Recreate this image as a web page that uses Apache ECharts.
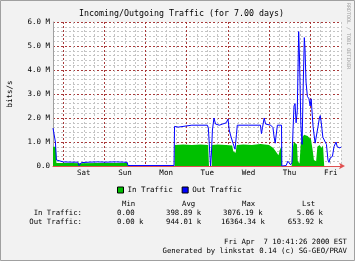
<!DOCTYPE html>
<html><head><meta charset="utf-8">
<script src="https://cdn.jsdelivr.net/npm/echarts@6/dist/echarts.min.js"></script>
<style>html,body{margin:0;padding:0;background:#f2f2f2}#c{width:355px;height:261px}</style>
</head><body><div id="c"></div>
<script>
// hours since Sat 00:00
const dayLabels = ['Sat', 'Sun', 'Mon', 'Tue', 'Wed', 'Thu', 'Fri'];
const yTickLabels = ['0.0', '1.0 M', '2.0 M', '3.0 M', '4.0 M', '5.0 M', '6.0 M'];

// In Traffic (Mbit/s)
const inTimes  = [-6, -4.3, -4.0, -3, 5, 10, 20, 30, 37.5, 37.7, 50, 64.9, 65.0, 70, 75, 80, 84.5, 85.0, 86.6, 86.8, 90, 95, 98.5, 99.2, 100.5, 101.2, 105, 110, 115, 120, 122.5, 124, 125.5, 126.5, 127.4, 127.6, 133.2, 133.6, 134.5, 135.5, 136.3, 136.8, 137.8, 138.5, 139.5, 140.5, 141.5, 142.5, 143.5, 144.5, 145.5, 146.2, 147.5, 148.2, 149.5, 150.5, 151.5, 152.0, 152.2, 162];
const inValues = [0.8, 0.8, 0.12, 0.12, 0.12, 0.11, 0.12, 0.12, 0.12, 0, 0, 0, 0.88, 0.9, 0.87, 0.9, 0.88, 0, 0, 0.88, 0.9, 0.87, 0.85, 0.6, 0.55, 0.88, 0.9, 0.88, 0.92, 0.88, 0.75, 0.6, 0.45, 0.7, 0.85, 0, 0, 0.6, 1.0, 0.95, 0.9, 0.2, 0.1, 0.9, 1.2, 1.3, 1.37, 1.25, 1.3, 1.1, 0.65, 0.25, 0.2, 0.8, 0.87, 0.75, 0.85, 0.85, 0, 0];

// Out Traffic (Mbit/s)
const outTimes  = [-6, -5.0, -4.6, -4.0, -3.0, 0, 5, 8.5, 9.2, 9.8, 10.5, 15, 20, 25, 29.5, 30.2, 31, 35, 37.3, 37.7, 50, 64.6, 64.9, 66, 67, 68, 75, 84, 84.6, 85.1, 85.9, 86.4, 87, 87.9, 88.8, 91, 93, 95, 96.1, 96.8, 97.7, 99, 100.2, 101, 101.5, 108, 115, 115.6, 116.2, 117.2, 118, 121, 122.3, 122.9, 123.6, 124.3, 124.9, 127.3, 127.5, 128, 130, 131, 131.8, 132.6, 133.4, 134.0, 134.6, 135.2, 135.8, 136.5, 137.3, 137.8, 138.6, 139.3, 140, 140.6, 141.0, 141.6, 142.4, 143.3, 144, 144.6, 145.7, 146.9, 147.5, 148.5, 149.4, 149.9, 150.5, 151.4, 152, 152.8, 153.5, 154.4, 155, 155.6, 156.3, 157, 157.9, 159.1, 159.8, 160.5, 161.4, 162];
const outValues = [1.58, 1.58, 1.0, 0.25, 0.18, 0.17, 0.16, 0.16, 0.02, 0.02, 0.14, 0.16, 0.17, 0.16, 0.17, 0.22, 0.17, 0.16, 0.15, 0.02, 0.02, 0.02, 1.65, 1.7, 1.62, 1.7, 1.7, 1.7, 1.6, 1.0, 0.0, 0.5, 1.5, 2.0, 1.75, 1.7, 1.75, 1.8, 1.95, 1.5, 1.25, 0.95, 0.7, 1.3, 1.7, 1.7, 1.7, 1.35, 1.6, 2.0, 1.75, 1.7, 1.6, 1.25, 0.95, 0.9, 1.7, 1.7, 0.0, 0.02, 0.02, 0.2, 0.25, 0.05, 0.15, 1.5, 2.5, 2.6, 1.8, 2.3, 5.6, 4.5, 1.7, 0.9, 3.5, 5.35, 4.9, 3.5, 2.9, 2.8, 2.5, 2.8, 1.65, 0.95, 1.0, 1.6, 2.0, 2.1, 1.8, 1.2, 1.25, 1.0, 0.9, 0.25, 0.15, 0.33, 0.25, 0.4, 0.8, 1.0, 0.8, 0.78, 0.75, 0.8];

const statHeaders = ['Min', 'Avg', 'Max', 'Lst'];
const inStats  = ['0.00', '398.89 k', '3076.19 k', '5.06 k'];
const outStats = ['0.00 k', '944.01 k', '16364.34 k', '653.92 k'];

const MONO = 'DejaVu Sans Mono';
const RED = '#a83a3a', GRAY = '#c4c4c4';
const zip = (a, b) => a.map((t, i) => [t, b[i]]);

const chart = echarts.init(document.getElementById('c'), null, {renderer: 'canvas'});

const statX = [122, 182, 242, 302];
const inX = [117, 166, 223, 323];
const outX = [117, 166, 221, 323];
const align = ['left', 'left', 'left', 'right'];
const graphics = [
  {type: 'rect', shape: {x: 0.5, y: 0.5, width: 354, height: 260}, style: {fill: 'none', stroke: '#a0a0a0', lineWidth: 1}, z: -1},
  {type: 'text', x: 348, y: 3, rotation: -Math.PI / 2, style: {text: 'RRDTOOL / TOBI OETIKER', font: '5px ' + MONO, fill: '#a0a0a0', textAlign: 'left', textVerticalAlign: 'middle'}},
  {type: 'text', x: 10, y: 94, rotation: Math.PI / 2, style: {text: 'bits/s', font: '7.5px ' + MONO, fill: '#000', textAlign: 'center', textVerticalAlign: 'middle'}}
];
statHeaders.forEach((h, i) => graphics.push({type: 'text', x: statX[i], y: 204, style: {text: h, font: '7.3px ' + MONO, fill: '#000', textAlign: 'left', textVerticalAlign: 'middle'}}));
graphics.push({type: 'text', x: 82, y: 213, style: {text: 'In Traffic:', font: '7.3px ' + MONO, fill: '#000', textAlign: 'right', textVerticalAlign: 'middle'}});
graphics.push({type: 'text', x: 82, y: 222, style: {text: 'Out Traffic:', font: '7.3px ' + MONO, fill: '#000', textAlign: 'right', textVerticalAlign: 'middle'}});
inStats.forEach((s, i) => graphics.push({type: 'text', x: inX[i], y: 213, style: {text: s, font: '7.3px ' + MONO, fill: '#000', textAlign: align[i], textVerticalAlign: 'middle'}}));
outStats.forEach((s, i) => graphics.push({type: 'text', x: outX[i], y: 222, style: {text: s, font: '7.3px ' + MONO, fill: '#000', textAlign: align[i], textVerticalAlign: 'middle'}}));
graphics.push({type: 'text', x: 347, y: 242, style: {text: 'Fri Apr  7 10:41:26 2000 EST', font: '7.3px ' + MONO, fill: '#000', textAlign: 'right', textVerticalAlign: 'middle'}});
graphics.push({type: 'text', x: 347, y: 251, style: {text: 'Generated by linkstat 0.14 (c) SG-GEO/PRAV', font: '7.3px ' + MONO, fill: '#000', textAlign: 'right', textVerticalAlign: 'middle'}});

chart.setOption({
  backgroundColor: '#f2f2f2',
  animation: false,
  title: {
    text: 'Incoming/Outgoing Traffic (for 7.00 days)',
    left: 176.5, top: 5, textAlign: 'center',
    textStyle: {fontFamily: MONO, fontSize: 8.3, fontWeight: 'normal', color: '#000'}
  },
  legend: {
    data: ['In Traffic', 'Out Traffic'],
    left: 112, top: 181,
    icon: 'rect', itemWidth: 6, itemHeight: 6, itemGap: 9,
    itemStyle: {borderColor: '#000', borderWidth: 1},
    textStyle: {fontFamily: MONO, fontSize: 7.5, color: '#000', padding: [0, 0, 0, -1]}
  },
  grid: {left: 53, top: 22, width: 288, height: 144, show: true, backgroundColor: '#ffffff', borderWidth: 0},
  xAxis: {
    type: 'value', min: -6, max: 162, interval: 6,
    axisLine: {show: true, onZero: false, lineStyle: {color: '#e05050', width: 1}, symbol: ['none', 'arrow'], symbolSize: [5, 6], symbolOffset: [0, 4]},
    axisTick: {show: false},
    axisLabel: {
      margin: 3, fontFamily: MONO, fontSize: 7.5, color: '#000',
      formatter: v => { const k = (v - 12) / 24; return Number.isInteger(k) && k >= 0 && k < dayLabels.length ? dayLabels[k] : ''; }
    },
    splitLine: {show: true, lineStyle: {color: [GRAY, RED, GRAY, GRAY], type: [2, 2], width: 1}}
  },
  yAxis: {
    type: 'value', min: 0, max: 6, interval: 0.2,
    axisLine: {show: true, onZero: false, lineStyle: {color: '#a0a0a0'}},
    axisTick: {show: false},
    axisLabel: {
      margin: 3, fontFamily: MONO, fontSize: 7.5, color: '#000',
      formatter: v => { const r = Math.round(v); return Math.abs(v - r) < 1e-6 ? yTickLabels[r] : ''; }
    },
    splitLine: {show: true, lineStyle: {color: [RED, GRAY, GRAY, GRAY, GRAY], type: [2, 2], width: 1}}
  },
  series: [
    {
      name: 'In Traffic', type: 'line', data: zip(inTimes, inValues),
      showSymbol: false, symbol: 'none', color: '#00c000',
      lineStyle: {width: 0}, areaStyle: {color: '#00c000', opacity: 1}, z: 2
    },
    {
      name: 'Out Traffic', type: 'line', data: zip(outTimes, outValues),
      showSymbol: false, symbol: 'none', color: '#0000ff',
      lineStyle: {width: 1, color: '#0000ff'}, z: 3
    }
  ],
  graphic: graphics
});
</script>
</body></html>
